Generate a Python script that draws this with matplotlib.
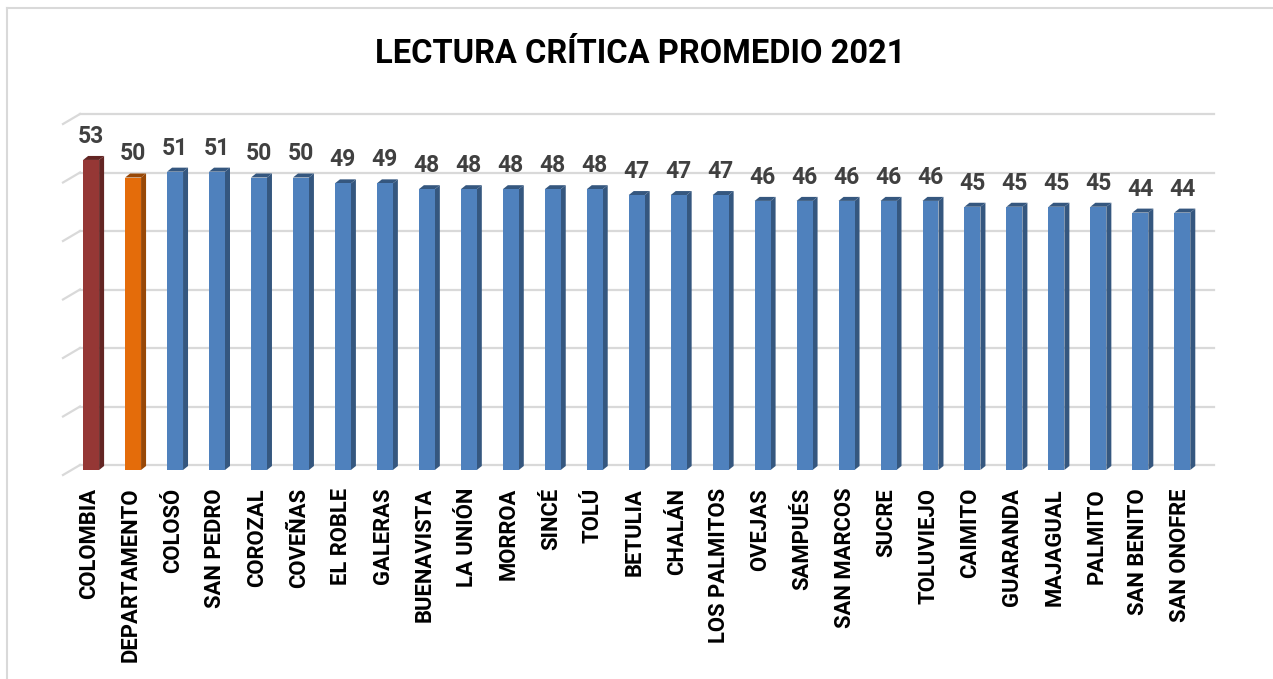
import matplotlib
matplotlib.use("Agg")
import matplotlib.pyplot as plt
from matplotlib.patches import Polygon
from matplotlib.lines import Line2D
import matplotlib.transforms as mtransforms

categories = ["COLOMBIA", "DEPARTAMENTO", "COLOSÓ", "SAN PEDRO", "COROZAL", "COVEÑAS",
              "EL ROBLE", "GALERAS", "BUENAVISTA", "LA UNIÓN", "MORROA", "SINCÉ", "TOLÚ",
              "BETULIA", "CHALÁN", "LOS PALMITOS", "OVEJAS", "SAMPUÉS", "SAN MARCOS",
              "SUCRE", "TOLUVIEJO", "CAIMITO", "GUARANDA", "MAJAGUAL", "PALMITO",
              "SAN BENITO", "SAN ONOFRE"]
values = [53, 50, 51, 51, 50, 50, 49, 49, 48, 48, 48, 48, 48, 47, 47, 47,
          46, 46, 46, 46, 46, 45, 45, 45, 45, 44, 44]
title = "LECTURA CRÍTICA PROMEDIO 2021"
grid_values = [0, 10, 20, 30, 40, 50, 60]

plt.rcParams['font.family'] = ['Roboto', 'DejaVu Sans']

W, H = 1273, 679
fig = plt.figure(figsize=(W / 100, H / 100), dpi=100)

# axes in pixel units (front plane)
left_px, right_px = 63, 1197
bottom_px, top_px = 470, 119
ax = fig.add_axes([left_px / W, 1 - bottom_px / H, (right_px - left_px) / W,
                   (bottom_px - top_px) / H])
ax.set_xlim(-0.67, 26.35)
ax.set_ylim(0, 60)
ax.axis('off')

# border (only top/left visible)
fig.add_artist(Line2D([7 / W, 7 / W], [0, 1 - 8 / H], transform=fig.transFigure,
                      color='#d9d9d9', lw=1.5))
fig.add_artist(Line2D([7 / W, 1], [1 - 8 / H, 1 - 8 / H], transform=fig.transFigure,
                      color='#d9d9d9', lw=1.5))

# gridlines on back wall plus slanted segments
blend = mtransforms.blended_transform_factory(ax.transAxes, ax.transData)
blend_back = mtransforms.offset_copy(blend, fig=fig, x=17, y=5, units='dots')
blend_front = mtransforms.offset_copy(blend, fig=fig, x=0, y=-5, units='dots')
for g in grid_values:
    ax.add_line(Line2D([0, 1], [g, g], transform=blend_back, color='#d9d9d9',
                       lw=1.6, clip_on=False, zorder=1))
    p0 = blend_front.transform((0, g))
    p1 = blend_back.transform((0, g))
    fig.add_artist(Line2D([p0[0] / W, p1[0] / W], [p0[1] / H, p1[1] / H],
                          transform=fig.transFigure, color='#d9d9d9', lw=1.6))

front_colors = ['#953735', '#E46C0A'] + ['#4F81BD'] * (len(values) - 2)
side_colors = ['#632523', '#984807'] + ['#35577F'] * (len(values) - 2)

bw = 0.38
dx_px, dy_px = 5, 4
ax.bar(range(len(values)), values, width=bw, color=front_colors,
       zorder=3, linewidth=0)

inv = ax.transData.inverted()
o = inv.transform(ax.transData.transform((0, 0)) + [dx_px, dy_px])
ddx, ddy = o[0], o[1]
for i, (v, sc) in enumerate(zip(values, side_colors)):
    xr = i + bw / 2
    xl = i - bw / 2
    ax.add_patch(Polygon([(xr, 0), (xr + ddx, ddy), (xr + ddx, v + ddy), (xr, v)],
                         closed=True, facecolor=sc, edgecolor='none', zorder=2.9))
    ax.add_patch(Polygon([(xl, v), (xl + ddx, v + ddy), (xr + ddx, v + ddy), (xr, v)],
                         closed=True, facecolor=sc, edgecolor='none', zorder=2.9))
    ax.annotate(f"{v}", xy=(i, v), xytext=(0, 12), textcoords='offset pixels',
                ha='center', va='bottom', fontsize=16.5, fontweight='bold',
                color='#404040', annotation_clip=False)

for i, c in enumerate(categories):
    ax.annotate(c, xy=(i, 0), xytext=(-2, -18), textcoords='offset pixels',
                ha='center', va='top', rotation=90, fontsize=15.8,
                fontweight='bold', color='black', annotation_clip=False)

fig.text(640 / W, 1 - 54 / H, title, ha='center', va='center', fontsize=23.5,
         fontweight='bold', color='black')

fig.savefig('out.png', dpi=100, facecolor='white')
